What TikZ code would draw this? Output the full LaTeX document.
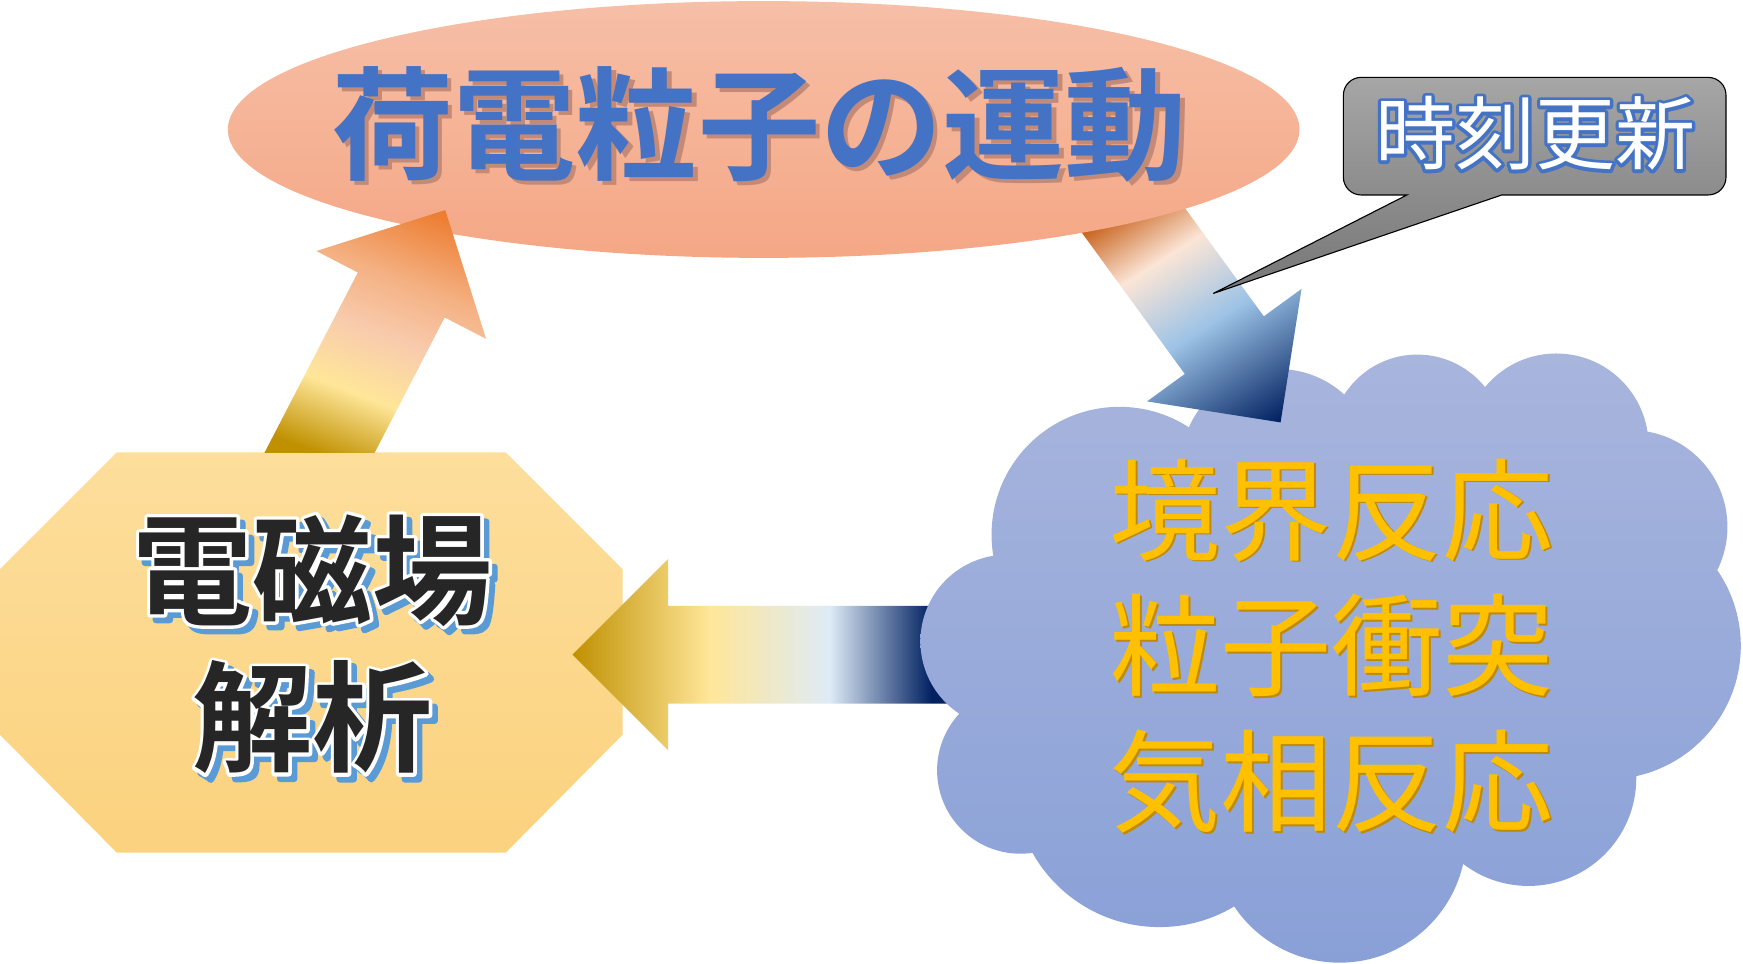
\documentclass[tikz,border=0pt]{standalone}
\usepackage{fontspec}
\usetikzlibrary{calc}
\newfontfamily\jpfont{Noto Sans CJK JP}
\newfontfamily\jpbold{Noto Sans CJK JP Bold}

\definecolor{motiontop}{HTML}{F6BFA7}
\definecolor{motionbottom}{HTML}{F5A785}
\definecolor{motionblue}{HTML}{4472C4}
\definecolor{motionshadow}{RGB}{196,138,118}
\definecolor{fieldtop}{HTML}{FDDE9C}
\definecolor{fieldbottom}{HTML}{FBD27E}
\definecolor{fieldblack}{HTML}{262626}
\definecolor{fieldshadow}{HTML}{5B9BD5}
\definecolor{cloudtop}{HTML}{A8B5DD}
\definecolor{cloudbottom}{HTML}{89A0D7}
\definecolor{reactiongold}{HTML}{FFC000}
\definecolor{reactionshadow}{HTML}{C08A00}
\definecolor{callouttop}{HTML}{A6A6A6}
\definecolor{calloutbottom}{HTML}{767676}
\definecolor{glowblue}{HTML}{4472C4}
% arrow colours
\definecolor{darkgold}{HTML}{BF9000}
\definecolor{paleyellow}{HTML}{FFE699}
\definecolor{palepeach}{HTML}{F8CBAD}
\definecolor{peach}{HTML}{F4B183}
\definecolor{brightorange}{HTML}{ED7D31}
\definecolor{burntorange}{HTML}{C55A11}
\definecolor{lightpeach}{HTML}{FBE5D6}
\definecolor{skyblue}{HTML}{9DC3E6}
\definecolor{iceblue}{HTML}{DEEBF7}
\definecolor{navy}{HTML}{002060}

\pgfdeclarehorizontalshading{shadeup}{100bp}{color(0bp)=(darkgold); color(33bp)=(darkgold); color(45bp)=(paleyellow); color(56bp)=(palepeach); color(66bp)=(peach); color(79bp)=(brightorange); color(100bp)=(brightorange)}
\pgfdeclarehorizontalshading{shadedown}{100bp}{color(0bp)=(burntorange); color(28bp)=(burntorange); color(42bp)=(lightpeach); color(58bp)=(skyblue); color(82bp)=(navy); color(100bp)=(navy)}
\pgfdeclarehorizontalshading{shadeleft}{100bp}{color(0bp)=(darkgold); color(25bp)=(darkgold); color(41bp)=(paleyellow); color(55bp)=(iceblue); color(67bp)=(navy); color(100bp)=(navy)}

% stroked copy of a text (outline or glow)
\newcommand{\outlinecopy}[3]{\rlap{\special{pdf:code q 1 Tr #2 w 1 j}\color{#1}#3\special{pdf:code 0 Tr Q}}}
% filled and stroked copy
\newcommand{\thickcopy}[3]{\rlap{\special{pdf:code q 2 Tr #2 w 1 j}\color{#1}#3\special{pdf:code 0 Tr Q}}}
% text with one shifted copy under it
\newcommand{\dropcopy}[4]{\rlap{\color{#1}\kern#2\raise#3\hbox{#4}}#4}
\newcommand{\fieldline}[1]{\rlap{\kern5bp\raise-5bp\hbox{\thickcopy{fieldshadow}{6}{#1}}}\outlinecopy{white}{6}{#1}#1}

% block arrow: shading, shading angle, start, tip
\newcommand{\blockarrow}[4]{%
\coordinate (#3-base) at ($(#4)!86bp!(#3)$);
\shade[shading=#1, shading angle=#2]
  ($(#3)!44bp!90:(#4)$) -- ($(#3-base)!44bp!90:(#4)$) -- ($(#3-base)!86bp!90:(#4)$) -- (#4)
  -- ($(#3-base)!86bp!-90:(#4)$) -- ($(#3-base)!44bp!-90:(#4)$) -- ($(#3)!44bp!-90:(#4)$) -- cycle;}

\begin{document}
\begin{tikzpicture}[x=1bp,y=1bp,
  motiontext/.style={inner sep=0pt, text=motionblue,
    font=\jpbold\fontsize{110bp}{110bp}\selectfont},
  fieldtext/.style={align=center, inner sep=0pt, text=fieldblack,
    font=\jpbold\fontsize{108bp}{133bp}\selectfont},
  reactiontext/.style={align=center, inner sep=0pt, text=reactiongold,
    font=\jpfont\fontsize{100bp}{122bp}\selectfont},
  callout/.style={top color=callouttop, bottom color=calloutbottom, draw=black, line width=1bp},
  ticktext/.style={inner sep=0pt, text=white, font=\jpfont\fontsize{72bp}{72bp}\selectfont}]
\useasboundingbox (0,0) rectangle (1568,867);

% field solver box
\shade[top color=fieldtop, bottom color=fieldbottom]
  (105,460) -- (455,460) -- (560,355) -- (560,206) -- (455,100) -- (105,100) -- (0,206) -- (0,355) -- cycle;
\node[fieldtext] (field) at (281,285) {\fieldline{電磁場}\\\fieldline{解析}};

% arrow from reactions back to field
\coordinate (c-start) at (900,278);
\coordinate (c-tip) at (515,278);
\blockarrow{shadeleft}{0}{c-start}{c-tip}

% reactions cloud
\shade[top color=cloudtop, bottom color=cloudbottom]
  (1007,386) circle[radius=115bp] (1150,447) circle[radius=88bp]
  (1275,470) circle[radius=78bp] (1400,466) circle[radius=83bp]
  (1467,393) circle[radius=87bp] (1446,286) circle[radius=120bp]
  (1375,167) circle[radius=97bp] (1205,115) circle[radius=114bp]
  (1043,164) circle[radius=131bp] (918,174) circle[radius=75bp]
  (906,290) circle[radius=78bp]
  (1190,297) ellipse[x radius=300bp, y radius=180bp];
\node[reactiontext] (reaction) at (1198,285)
  {\dropcopy{reactionshadow}{1.5bp}{-1.5bp}{境界反応}\\
   \dropcopy{reactionshadow}{1.5bp}{-1.5bp}{粒子衝突}\\
   \dropcopy{reactionshadow}{1.5bp}{-1.5bp}{気相反応}};

% arrow from motion to reactions
\coordinate (b-start) at (999,697);
\coordinate (b-tip) at (1152,487);
\blockarrow{shadedown}{-57.35}{b-start}{b-tip}

% particle motion
\shade[top color=motiontop, bottom color=motionbottom] (687,750.5) ellipse[x radius=482bp, y radius=115.5bp];
\node[motiontext] (motion) at (683,753) {\dropcopy{motionshadow}{4bp}{-4bp}{荷電粒子の運動}};

% arrow from field to motion
\coordinate (a-start) at (264.8,415.9);
\coordinate (a-tip) at (400.5,678);
\begin{scope}
\clip (0,460) rectangle (1568,867);
\blockarrow{shadeup}{68.8}{a-start}{a-tip}
\end{scope}

% time step callout
\coordinate (tick-point) at (1091.5,603);
\shadedraw[callout] (1265.7,691.6) -- (tick-point) -- (1351,691.6) -- (1536.7,691.6)
  arc[start angle=-90, end angle=0, radius=16bp] -- (1552.7,781.4)
  arc[start angle=0, end angle=90, radius=16bp] -- (1224.5,797.4)
  arc[start angle=90, end angle=180, radius=16bp] -- (1208.5,707.6)
  arc[start angle=180, end angle=270, radius=16bp] -- cycle;
\node[ticktext] (tick) at (1381,747) {\outlinecopy{glowblue}{6}{時刻更新}時刻更新};
\end{tikzpicture}
\end{document}
